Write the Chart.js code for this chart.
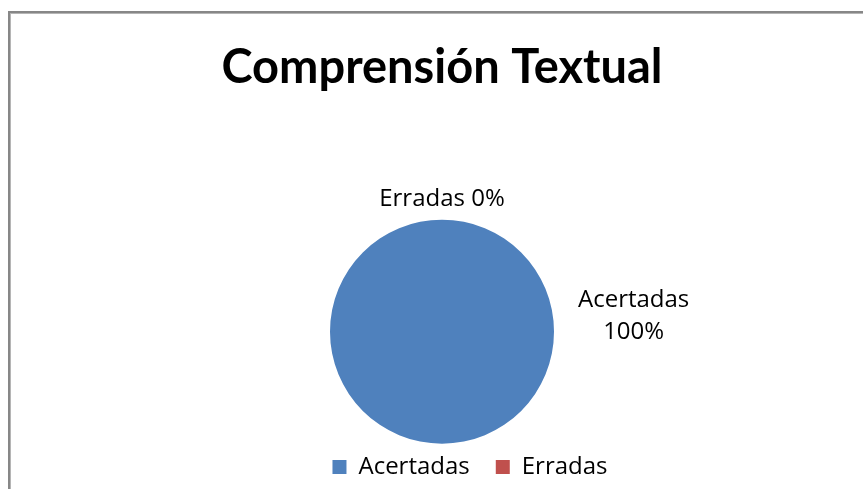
<!DOCTYPE html>
<html>
<head>
<meta charset="utf-8">
<script src="https://cdn.jsdelivr.net/npm/chart.js@4.4.1/dist/chart.umd.min.js"></script>
<style>
  html, body { margin: 0; padding: 0; background: #fff; }
  #wrap { position: relative; width: 863px; height: 489px; overflow: hidden; }
  #frame { position: absolute; left: 8px; top: 11px; width: 900px; height: 600px;
           border-left: 2px solid #878787; border-top: 2px solid #878787;
           box-shadow: inset 1px 1px 0 #b5b5b5; }
  #c { position: absolute; left: 0; top: 0; }
</style>
</head>
<body>
<div id="wrap">
  <div id="frame"></div>
  <canvas id="c" width="863" height="489"></canvas>
</div>
<script>
const titleText = "Comprensión Textual";
const categories = ["Acertadas", "Erradas"];
const values = [100, 0];
const colors = ["#4F81BD", "#C0504D"];

const TITLE_FONT = "Lato, 'Open Sans', sans-serif";
const FONT = "'Open Sans', Lato, sans-serif";

const pieLabels = {
  id: 'pieLabels',
  afterDatasetsDraw(chart) {
    const ctx = chart.ctx;
    const meta = chart.getDatasetMeta(0);
    const data = chart.data.datasets[0].data;
    const total = data.reduce((a, b) => a + b, 0);
    ctx.save();
    ctx.font = "24px " + FONT;
    ctx.fillStyle = "#000";
    ctx.textAlign = "center";
    ctx.textBaseline = "middle";
    meta.data.forEach((arc, i) => {
      const p = arc.getProps(['x', 'y', 'startAngle', 'endAngle', 'outerRadius'], true);
      const pct = Math.round(data[i] / total * 100) + "%";
      const span = p.endAngle - p.startAngle;
      if (span >= Math.PI * 2 - 1e-6) {
        const lx = p.x + p.outerRadius + 24;
        const w1 = ctx.measureText(chart.data.labels[i]).width;
        const cx = lx + w1 / 2;
        ctx.fillText(chart.data.labels[i], cx, p.y - 32);
        ctx.fillText(pct, cx, p.y);
      } else {
        const mid = (p.startAngle + p.endAngle) / 2;
        const d = p.outerRadius + 21;
        const lx = p.x + Math.cos(mid) * d;
        const ly = p.y + Math.sin(mid) * d;
        ctx.fillText(chart.data.labels[i] + " " + pct, lx, ly);
      }
    });
    ctx.restore();
  }
};

const legendShift = {
  id: 'legendShift',
  afterLayout(chart) {
    const lg = chart.legend;
    if (lg) { lg.left += 28; lg.right += 28; }
  }
};

new Chart(document.getElementById('c'), {
  type: 'pie',
  data: {
    labels: categories,
    datasets: [{
      data: values,
      backgroundColor: colors,
      borderWidth: 0,
      radius: 112
    }]
  },
  options: {
    responsive: false,
    animation: false,
    events: [],
    layout: { padding: { left: 21, right: 0, top: 0, bottom: 0 } },
    plugins: {
      title: {
        display: true,
        text: titleText,
        color: "#000",
        font: { family: TITLE_FONT, size: 47, weight: 'bold', lineHeight: 1.2 },
        padding: { top: 40, bottom: 138 }
      },
      legend: {
        position: 'bottom',
        labels: {
          color: "#000",
          font: { family: FONT, size: 24 },
          boxWidth: 14,
          boxHeight: 14,
          padding: 26
        }
      },
      tooltip: { enabled: false }
    }
  },
  plugins: [pieLabels, legendShift]
});
</script>
</body>
</html>
